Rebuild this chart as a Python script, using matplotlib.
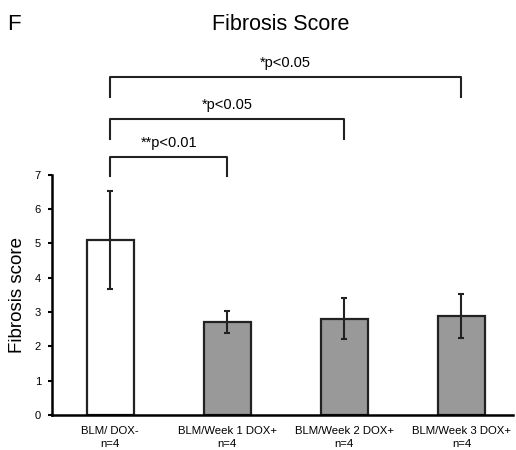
import matplotlib
matplotlib.use("Agg")
import matplotlib.pyplot as plt

plt.rcParams['font.family'] = ['Liberation Sans', 'DejaVu Sans']

categories = ["BLM/ DOX-\nn=4", "BLM/Week 1 DOX+\nn=4", "BLM/Week 2 DOX+\nn=4", "BLM/Week 3 DOX+\nn=4"]
means = [5.1, 2.71, 2.81, 2.88]
errors = [1.43, 0.32, 0.59, 0.65]
bar_colors = ["white", "#999999", "#999999", "#999999"]
y_ticks = [0, 1, 2, 3, 4, 5, 6, 7]

comparisons = [(0, 1, "**p<0.01"), (0, 2, "*p<0.05"), (0, 3, "*p<0.05")]
bracket_levels = [7.53, 8.62, 9.85]
bracket_drop = 0.58

fig = plt.figure(figsize=(5.16, 4.5), dpi=100)
ax = fig.add_axes([52/516, 35/450, (513-52)/516, (415-174.7)/450])

x = list(range(len(categories)))
ax.bar(x, means, width=0.40, color=bar_colors, edgecolor="#222222", linewidth=1.6,
       yerr=errors, error_kw=dict(ecolor="#222222", elinewidth=1.5, capsize=2, capthick=1.5),
       zorder=2)

ax.set_xlim(-0.496, 3.44)
ax.set_ylim(0, 7)
ax.set_yticks(y_ticks)
ax.set_yticklabels([str(t) for t in y_ticks], fontsize=8)
ax.set_xticks(x)
ax.set_xticklabels(categories, fontsize=8.2, linespacing=1.3)
ax.tick_params(axis='x', length=0, pad=8)
ax.tick_params(axis='y', length=3, width=1.5, direction='out', pad=5)
for s in ["top", "right"]:
    ax.spines[s].set_visible(False)
ax.spines["left"].set_linewidth(1.8)
ax.spines["bottom"].set_linewidth(1.8)
ax.set_ylabel("Fibrosis score", fontsize=13.5, labelpad=6)

for (i, j, label), lvl in zip(comparisons, bracket_levels):
    ax.plot([i, i, j, j], [lvl - bracket_drop, lvl, lvl, lvl - bracket_drop],
            color="#222222", linewidth=1.5, clip_on=False)
    ax.text((i + j) / 2, lvl + 0.2, label, ha="center", va="bottom", fontsize=10.5,
            clip_on=False)

fig.text(281/516, 1 - 24/450, "Fibrosis Score", ha="center", va="center", fontsize=15.5)
fig.text(7/516, 1 - 24/450, "F", ha="left", va="center", fontsize=16)

fig.savefig("out.png", dpi=100)
